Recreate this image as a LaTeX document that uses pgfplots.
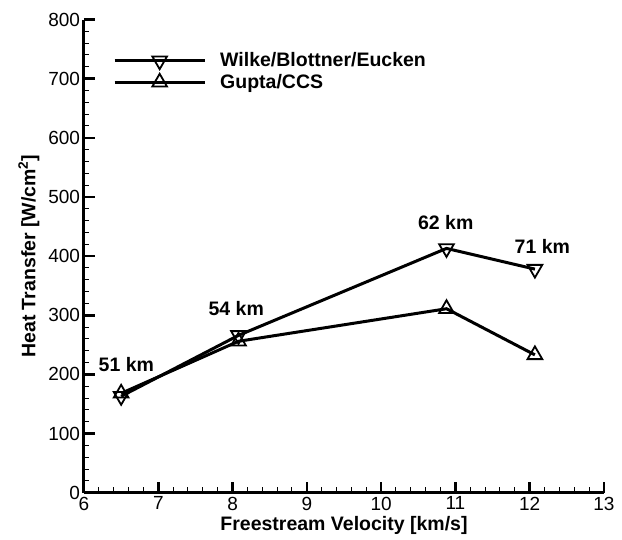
\documentclass[border=0pt]{standalone}
\usepackage{fontspec}
\setmainfont{Liberation Sans}
\usepackage{pgfplots}
\pgfplotsset{compat=1.18}
\begin{document}
\begin{tikzpicture}
\begin{axis}[
  at={(0pt,0pt)}, anchor=origin,
  scale only axis,
  width=520pt, height=473.2pt,
  xmin=6, xmax=13, ymin=0, ymax=800,
  xtick={6,7,...,13}, ytick={0,100,...,800},
  minor x tick num=4, minor y tick num=4,
  axis x line=bottom, axis y line=left,
  axis line style={-, line width=3pt},
  tick align=inside,
  major tick length=11pt, minor tick length=5.5pt,
  every major tick/.append style={line width=2.6pt, black},
  every minor tick/.append style={line width=1pt, black},
  xticklabel={\fontsize{19}{21}\selectfont\pgfmathprintnumber[assume math mode=true]{\tick}},
  yticklabel={\fontsize{19}{21}\selectfont\pgfmathprintnumber[assume math mode=true]{\tick}},
  xticklabel style={yshift=-0.5pt},
  yticklabel style={xshift=-0.5pt},
  xlabel={\bfseries Freestream Velocity [km/s]},
  ylabel={\bfseries Heat Transfer [W/cm\textsuperscript{2}]},
  label style={font=\fontsize{19.5}{21}\selectfont},
  xlabel style={yshift=1pt},
  ylabel style={yshift=2pt},
  legend style={at={(axis cs:6.39,749)}, anchor=north west, draw=none, fill=none,
    font=\fontsize{19.5}{21}\selectfont\bfseries, inner sep=0pt, row sep=0pt,
    nodes={inner xsep=0pt, inner ysep=3pt},
    /tikz/every odd column/.append style={column sep=14pt}},
  legend cell align=left,
  legend image code/.code={
    \draw[mark repeat=2,mark phase=2,#1, line width=3pt] plot coordinates {(0pt,0pt)(45pt,0pt)(90pt,0pt)};
  },
  clip=false,
]
\addplot[black, line width=3pt, mark=triangle, mark size=8.5pt,
  mark options={rotate=180, fill=white, line width=1.8pt}]
  coordinates {(6.5,163) (8.08,266) (10.88,413) (12.07,378)};
\addlegendentry{Wilke/Blottner/Eucken}
\addplot[black, line width=3pt, mark=triangle, mark size=8.5pt,
  mark options={fill=white, line width=1.8pt}]
  coordinates {(6.5,168) (8.08,256) (10.88,311) (12.07,233)};
\addlegendentry{Gupta/CCS}
\node[font=\fontsize{19.5}{21}\selectfont\bfseries] at (axis cs:6.57,217) {51 km};
\node[font=\fontsize{19.5}{21}\selectfont\bfseries] at (axis cs:8.05,312) {54 km};
\node[font=\fontsize{19.5}{21}\selectfont\bfseries] at (axis cs:10.87,456) {62 km};
\node[font=\fontsize{19.5}{21}\selectfont\bfseries] at (axis cs:12.17,416) {71 km};
\end{axis}
\path[use as bounding box] (-84pt,-46.3pt) rectangle (538pt,492.7pt);
\end{tikzpicture}
\end{document}
